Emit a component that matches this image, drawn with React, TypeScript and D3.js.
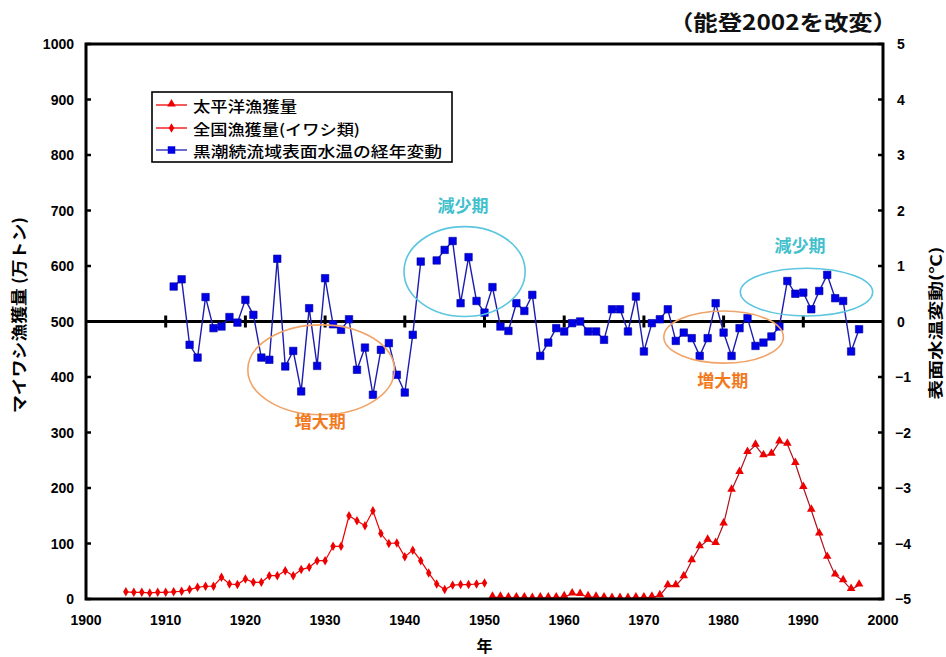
import React from 'react';
import * as d3 from 'd3';

// Frame of the plotting area (pixels)
const W = 946;
const H = 657;
const PLOT = { left: 86, right: 883, top: 44, bottom: 599 };

// Axis ticks
const xTicks = [1900, 1910, 1920, 1930, 1940, 1950, 1960, 1970, 1980, 1990, 2000];
const leftTicks = [0, 100, 200, 300, 400, 500, 600, 700, 800, 900, 1000];
const rightTicks = [-5, -4, -3, -2, -1, 0, 1, 2, 3, 4, 5];

// Sea-surface temperature anomaly, Kuroshio extension (°C); 1943 missing
const tempYears = [
  1911, 1912, 1913, 1914, 1915, 1916, 1917, 1918, 1919, 1920,
  1921, 1922, 1923, 1924, 1925, 1926, 1927, 1928, 1929, 1930,
  1931, 1932, 1933, 1934, 1935, 1936, 1937, 1938, 1939, 1940,
  1941, 1942, 1943, 1944, 1945, 1946, 1947, 1948, 1949, 1950,
  1951, 1952, 1953, 1954, 1955, 1956, 1957, 1958, 1959, 1960,
  1961, 1962, 1963, 1964, 1965, 1966, 1967, 1968, 1969, 1970,
  1971, 1972, 1973, 1974, 1975, 1976, 1977, 1978, 1979, 1980,
  1981, 1982, 1983, 1984, 1985, 1986, 1987, 1988, 1989, 1990,
  1991, 1992, 1993, 1994, 1995, 1996, 1997,
];
const tempValues: (number | null)[] = [
  0.63, 0.76, -0.42, -0.65, 0.44, -0.12, -0.09, 0.08, -0.02, 0.39,
  0.12, -0.65, -0.69, 1.13, -0.81, -0.53, -1.26, 0.24, -0.8, 0.78,
  -0.05, -0.15, 0.04, -0.87, -0.47, -1.32, -0.51, -0.39, -0.96, -1.28,
  -0.24, 1.08, null, 1.1, 1.29, 1.45, 0.33, 1.16, 0.37, 0.16,
  0.62, -0.09, -0.17, 0.33, 0.19, 0.48, -0.62, -0.38, -0.12, -0.18,
  -0.03, 0.0, -0.18, -0.18, -0.33, 0.22, 0.22, -0.18, 0.45, -0.54,
  -0.03, 0.04, 0.22, -0.35, -0.2, -0.3, -0.62, -0.3, 0.33, -0.2,
  -0.62, -0.12, 0.06, -0.44, -0.38, -0.27, -0.09, 0.73, 0.5, 0.52,
  0.22, 0.55, 0.84, 0.42, 0.37, -0.54, -0.14,
];

// Nationwide sardine catch (万トン), 1905–1950
const nationYears = [
  1905, 1906, 1907, 1908, 1909, 1910, 1911, 1912, 1913, 1914,
  1915, 1916, 1917, 1918, 1919, 1920, 1921, 1922, 1923, 1924,
  1925, 1926, 1927, 1928, 1929, 1930, 1931, 1932, 1933, 1934,
  1935, 1936, 1937, 1938, 1939, 1940, 1941, 1942, 1943, 1944,
  1945, 1946, 1947, 1948, 1949, 1950,
];
const nationCatch = [
  13, 12, 12, 11, 12, 12, 13, 14, 17, 21,
  23, 23, 39, 27, 26, 36, 30, 30, 42, 42,
  51, 42, 53, 57, 69, 69, 95, 95, 150, 141,
  132, 159, 118, 100, 101, 76, 88, 69, 47, 27,
  17, 25, 26, 26, 27, 29,
];

// Pacific catch (万トン), 1951–1997
const pacificYears = [
  1951, 1952, 1953, 1954, 1955, 1956, 1957, 1958, 1959, 1960,
  1961, 1962, 1963, 1964, 1965, 1966, 1967, 1968, 1969, 1970,
  1971, 1972, 1973, 1974, 1975, 1976, 1977, 1978, 1979, 1980,
  1981, 1982, 1983, 1984, 1985, 1986, 1987, 1988, 1989, 1990,
  1991, 1992, 1993, 1994, 1995, 1996, 1997,
];
const pacificCatch = [
  3, 3, 2, 2, 2, 1, 2, 2, 2, 4,
  9, 8, 4, 3, 2, 1, 1, 1, 2, 2,
  3, 6, 24, 24, 40, 69, 94, 106, 100, 135,
  196, 228, 264, 277, 258, 261, 283, 279, 244, 201,
  160, 117, 75, 43, 33, 17, 25,
];

// Legend entries
const legendLabels = ['太平洋漁獲量', '全国漁獲量(イワシ類)', '黒潮続流域表面水温の経年変動'];

// Period annotations: centre (year, °C), radii (years, °C)
const periodLabels = ['増大期', '減少期', '増大期', '減少期'];
const periodKinds = ['up', 'down', 'up', 'down'];
const periodCenterYear = [1929.5, 1947.5, 1980.0, 1990.4];
const periodCenterTemp = [-0.87, 0.9, -0.28, 0.53];
const periodRadiusYear = [9.2, 7.6, 7.5, 8.3];
const periodRadiusTemp = [0.81, 0.81, 0.47, 0.43];
const periodLabelYear = [1929.4, 1947.3, 1979.9, 1989.6];
const periodLabelTemp = [-1.79, 2.1, -1.05, 1.38];

const JP = "'Noto Sans CJK JP', 'Noto Sans', sans-serif";
const NUM = "'Liberation Sans', Arial, sans-serif";

const BLUE_LINE = '#1c1cb0';
const BLUE_MARK = '#0000e6';
const RED = '#ee0000';
const UP_STROKE = '#f0a469';
const UP_TEXT = '#f27a1e';
const DOWN_STROKE = '#5cc6df';
const DOWN_TEXT = '#3fc0cc';

export default function App() {
  const x = d3.scaleLinear().domain([1900, 2000]).range([PLOT.left, PLOT.right]);
  const yL = d3.scaleLinear().domain([0, 1000]).range([PLOT.bottom, PLOT.top]);
  const yR = d3.scaleLinear().domain([-5, 5]).range([PLOT.bottom, PLOT.top]);

  const tempPts = tempYears.map((yr, i) => ({ yr, v: tempValues[i] }));
  const tempLine = d3
    .line<{ yr: number; v: number | null }>()
    .defined((d) => d.v !== null)
    .x((d) => x(d.yr))
    .y((d) => yR(d.v as number));

  const nationPts = nationYears.map((yr, i) => ({ yr, v: nationCatch[i] }));
  const pacificPts = pacificYears.map((yr, i) => ({ yr, v: pacificCatch[i] }));
  const catchLine = d3
    .line<{ yr: number; v: number }>()
    .x((d) => x(d.yr))
    .y((d) => yL(d.v));

  const square = d3.symbol().type(d3.symbolSquare).size(56)()!;
  const triangle = d3.symbol().type(d3.symbolTriangle).size(32)()!;
  const diamond = d3.symbol().type(d3.symbolDiamond).size(26)()!;

  const y0 = yR(0);
  const innerDecades = xTicks.slice(1, -1);

  // Legend layout
  const lg = { x: 152, y: 92, w: 300, h: 70 };
  const rowY = [105, 128, 150];
  const rowText = [104, 167, 249];

  return (
    <svg
      width={W}
      height={H}
      style={{ position: 'absolute', left: 0, top: 0, background: '#fff' }}
    >
      <rect x={0} y={0} width={W} height={H} fill="#fff" />

      {/* Source note */}
      <text
        x={669}
        y={30}
        fontFamily={JP}
        fontWeight={700}
        fontSize={21}
        textLength={228}
        lengthAdjust="spacingAndGlyphs"
        fill="#111"
      >
        （能登2002を改変）
      </text>

      {/* Zero line of the temperature axis with decade ticks */}
      <line x1={PLOT.left} x2={PLOT.right} y1={y0} y2={y0} stroke="#000" strokeWidth={3} />
      {innerDecades.map((t) => (
        <line key={`zt${t}`} x1={x(t)} x2={x(t)} y1={y0 - 6} y2={y0 + 6} stroke="#000" strokeWidth={3} />
      ))}

      {/* Catch series */}
      <path d={catchLine(nationPts)!} fill="none" stroke={RED} strokeWidth={1.2} />
      {nationPts.map((d) => (
        <path key={`n${d.yr}`} d={diamond} transform={`translate(${x(d.yr)},${yL(d.v)})`} fill={RED} />
      ))}
      <path d={catchLine(pacificPts)!} fill="none" stroke="#b0101c" strokeWidth={1.2} />
      {pacificPts.map((d) => (
        <path key={`p${d.yr}`} d={triangle} transform={`translate(${x(d.yr)},${yL(d.v) - 1})`} fill={RED} />
      ))}

      {/* Temperature series */}
      <path d={tempLine(tempPts)!} fill="none" stroke={BLUE_LINE} strokeWidth={1.4} />
      {tempPts
        .filter((d) => d.v !== null)
        .map((d) => (
          <path
            key={`t${d.yr}`}
            d={square}
            transform={`translate(${x(d.yr)},${yR(d.v as number)})`}
            fill={BLUE_MARK}
            stroke="#0000a0"
            strokeWidth={0.6}
          />
        ))}

      {/* Period ellipses and labels */}
      {periodLabels.map((lab, i) => {
        const cx = x(periodCenterYear[i]);
        const cy = yR(periodCenterTemp[i]);
        const rx = x(periodCenterYear[i] + periodRadiusYear[i]) - cx;
        const ry = yR(periodCenterTemp[i] - periodRadiusTemp[i]) - cy;
        const up = periodKinds[i] === 'up';
        return (
          <g key={`per${i}`}>
            <ellipse cx={cx} cy={cy} rx={rx} ry={ry} fill="none" stroke={up ? UP_STROKE : DOWN_STROKE} strokeWidth={1.6} />
            <text
              x={x(periodLabelYear[i])}
              y={yR(periodLabelTemp[i])}
              textAnchor="middle"
              dominantBaseline="central"
              fontFamily={JP}
              fontWeight={700}
              fontSize={17}
              fill={up ? UP_TEXT : DOWN_TEXT}
            >
              {lab}
            </text>
          </g>
        );
      })}

      {/* Plot frame */}
      <rect
        x={PLOT.left}
        y={PLOT.top}
        width={PLOT.right - PLOT.left}
        height={PLOT.bottom - PLOT.top}
        fill="none"
        stroke="#000"
        strokeWidth={3}
      />

      {/* Left axis */}
      {leftTicks.map((t) => (
        <g key={`l${t}`}>
          <line x1={PLOT.left} x2={PLOT.left + 5} y1={yL(t)} y2={yL(t)} stroke="#000" strokeWidth={2.5} />
          <text
            x={74}
            y={yL(t)}
            textAnchor="end"
            dominantBaseline="central"
            fontFamily={NUM}
            fontWeight={700}
            fontSize={14}
            fill="#000"
          >
            {t}
          </text>
        </g>
      ))}

      {/* Right axis */}
      {rightTicks.map((t) => (
        <g key={`r${t}`}>
          <line x1={PLOT.right - 5} x2={PLOT.right} y1={yR(t)} y2={yR(t)} stroke="#000" strokeWidth={2.5} />
          <text
            x={t < 0 ? 895 : 897}
            y={yR(t)}
            dominantBaseline="central"
            fontFamily={NUM}
            fontWeight={700}
            fontSize={14}
            fill="#000"
          >
            {t < 0 ? `−${Math.abs(t)}` : t}
          </text>
        </g>
      ))}

      {/* Bottom axis labels */}
      {xTicks.map((t) => (
        <text
          key={`x${t}`}
          x={x(t)}
          y={620}
          textAnchor="middle"
          dominantBaseline="central"
          fontFamily={NUM}
          fontWeight={700}
          fontSize={14}
          fill="#000"
        >
          {t}
        </text>
      ))}

      {/* Axis titles */}
      <text x={x(1950)} y={645} textAnchor="middle" dominantBaseline="central" fontFamily={JP} fontWeight={700} fontSize={16}>
        年
      </text>
      <text
        transform={`translate(18,315) rotate(-90)`}
        textAnchor="middle"
        dominantBaseline="central"
        fontFamily={JP}
        fontWeight={700}
        fontSize={16}
        textLength={196}
        lengthAdjust="spacingAndGlyphs"
      >
        マイワシ漁獲量 (万トン)
      </text>
      <text
        transform={`translate(934,323) rotate(-90)`}
        textAnchor="middle"
        dominantBaseline="central"
        fontFamily={JP}
        fontWeight={700}
        fontSize={15}
        textLength={153}
        lengthAdjust="spacingAndGlyphs"
      >
        表面水温変動(℃)
      </text>

      {/* Legend */}
      <rect x={lg.x} y={lg.y} width={lg.w} height={lg.h} fill="#fff" stroke="#000" strokeWidth={1.6} />
      {legendLabels.map((lab, i) => {
        const cy = rowY[i];
        const color = i === 2 ? BLUE_LINE : RED;
        const mark = i === 0 ? triangle : i === 1 ? diamond : square;
        return (
          <g key={`lg${i}`}>
            <line x1={156} x2={187} y1={cy} y2={cy} stroke={color} strokeWidth={1.3} />
            <path
              d={mark}
              transform={`translate(171.5,${i === 0 ? cy - 1 : cy})`}
              fill={i === 2 ? BLUE_MARK : RED}
            />
            <text
              x={193}
              y={cy}
              dominantBaseline="central"
              fontFamily={JP}
              fontSize={15}
              fontWeight={500}
              textLength={rowText[i]}
              lengthAdjust="spacingAndGlyphs"
              fill="#000"
            >
              {lab}
            </text>
          </g>
        );
      })}
    </svg>
  );
}
